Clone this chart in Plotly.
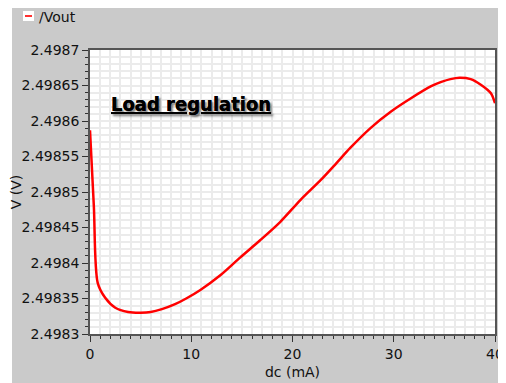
import plotly.graph_objects as go

# Data
dc_mA = [0.0, 0.38, 0.76, 1.5, 2.5, 3.76, 5.0, 6.0, 7.1, 8.4, 9.5, 10.9, 12.9, 14.85,
         16.8, 18.8, 20.8, 22.8, 24.3, 25.7, 27.7, 29.7, 31.7, 33.7, 34.7,
         35.6, 36.5, 37.6, 38.6, 39.6, 40.0]
vout = [2.498587, 2.498480, 2.498372, 2.498351, 2.498337, 2.498331, 2.498330,
        2.498331, 2.498335, 2.498342, 2.498350, 2.498362, 2.498383, 2.498408,
        2.498432, 2.498458, 2.498489, 2.498517, 2.498540, 2.498562, 2.498590,
        2.498613, 2.498632, 2.498649, 2.498655, 2.498659, 2.498661, 2.498659,
        2.498651, 2.498639, 2.498625]

y_tickvals = [2.4983, 2.49835, 2.4984, 2.49845, 2.4985, 2.49855, 2.4986, 2.49865, 2.4987]
y_ticktext = ["2.4983", "2.49835", "2.4984", "2.49845", "2.4985", "2.49855", "2.4986", "2.49865", "2.4987"]
x_tickvals = [0, 10, 20, 30, 40]
x_ticktext = ["0", "10", "20", "30", "40"]

# The page body adds an 8px offset; work in page pixels and convert.
OFF = 8
W, H = 506 - OFF, 383 - OFF
L, R, T, B = 90 - OFF, 11, 50 - OFF, 49
PW, PH = W - L - R, H - T - B


def px(x):
    return (x - OFF - L) / PW


def py(y):
    return (H - B - (y - OFF)) / PH


FONT = "DejaVu Sans"
GRID = "#ebebeb"

fig = go.Figure()
fig.add_trace(go.Scatter(x=dc_mA, y=vout, mode="lines",
                         line=dict(color="#ff0000", width=2.5, shape="spline", smoothing=0.8),
                         name="/Vout", showlegend=False))

shapes = [
    # white strips around the gray panel
    dict(type="rect", xref="paper", yref="paper", x0=px(0), x1=px(12), y0=py(H + 40), y1=py(-5),
         fillcolor="white", line=dict(width=0), layer="below"),
    dict(type="rect", xref="paper", yref="paper", x0=px(503), x1=px(W + 40), y0=py(H + 40), y1=py(-5),
         fillcolor="white", line=dict(width=0), layer="below"),
    # legend swatch
    dict(type="rect", xref="paper", yref="paper", x0=px(23), x1=px(34), y0=py(21), y1=py(11),
         fillcolor="white", line=dict(width=0)),
    dict(type="line", xref="paper", yref="paper", x0=px(25), x1=px(32), y0=py(16), y1=py(16),
         line=dict(color="#ff3030", width=2)),
]

annotations = [
    dict(xref="paper", yref="paper", x=px(37), y=py(17), xanchor="left", yanchor="middle",
         text="/Vout", showarrow=False, font=dict(family=FONT, size=14, color="#111")),
    dict(xref="paper", yref="paper", x=px(109), y=py(104), xanchor="left", yanchor="middle",
         text="<b><u>Load regulation</u></b>", showarrow=False,
         font=dict(family="Liberation Sans Narrow, DejaVu Sans Condensed, DejaVu Sans", size=20,
                   color="#000", shadow="2px 2px 2px rgba(0,0,0,0.28)")),
]

fig.update_layout(
    width=W, height=H,
    margin=dict(l=L, r=R, t=T, b=B, pad=0),
    paper_bgcolor="#cacaca",
    plot_bgcolor="white",
    shapes=shapes,
    annotations=annotations,
    font=dict(family=FONT, size=14, color="#111"),
    xaxis=dict(range=[0, 40], tickvals=x_tickvals, ticktext=x_ticktext,
               showgrid=True, gridcolor=GRID, gridwidth=2,
               minor=dict(dtick=1, showgrid=True, gridcolor=GRID, gridwidth=2,
                          ticks="outside", ticklen=3, tickcolor="#333"),
               ticks="outside", ticklen=6, tickcolor="#333",
               showline=True, linecolor="#555", linewidth=1.5, mirror=True,
               zeroline=False, automargin=False,
               title=dict(text="dc (mA)", font=dict(size=14), standoff=7),
               tickfont=dict(size=14)),
    yaxis=dict(range=[2.4983, 2.4987], tickvals=y_tickvals, ticktext=y_ticktext,
               showgrid=True, gridcolor=GRID, gridwidth=2,
               minor=dict(dtick=0.00001, tick0=2.4983, showgrid=True, gridcolor=GRID, gridwidth=2,
                          ticks="outside", ticklen=3, tickcolor="#333"),
               ticks="outside", ticklen=6, tickcolor="#333",
               showline=True, linecolor="#555", linewidth=1.5, mirror=True,
               zeroline=False, automargin=False,
               title=dict(text="V (V)", font=dict(size=14), standoff=3),
               tickfont=dict(size=14)),
)

fig.write_html("out.html")
